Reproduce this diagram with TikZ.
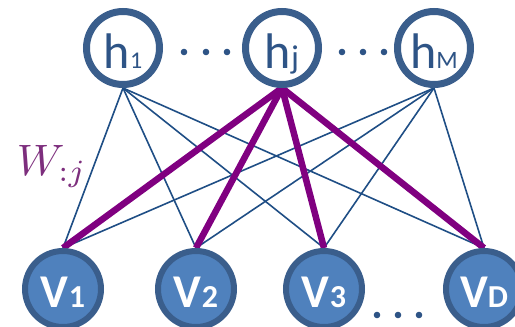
\documentclass[tikz,border=0pt]{standalone}
\usepackage{fontspec}
\setmainfont{Carlito}
\usetikzlibrary{backgrounds}
\definecolor{ring}{HTML}{3A5E8C}
\definecolor{vfill}{HTML}{4F81BD}
\definecolor{htext}{HTML}{2E5486}
\definecolor{edgeblue}{HTML}{1F4E85}
\definecolor{wpurple}{HTML}{800080}
\definecolor{wlabel}{HTML}{7D2E7D}
\newcommand\hlab[2]{{\fontsize{50}{50}\selectfont h}{\fontsize{#1}{#1}\selectfont #2}}
\newcommand\vlab[1]{\bfseries{\fontsize{47}{47}\selectfont V}{\fontsize{32}{32}\selectfont #1}}
\begin{document}
\begin{tikzpicture}[x=1pt,y=-1pt,
  hnode/.style={circle,draw=ring,line width=7pt,fill=white,minimum size=73pt,inner sep=0pt,text=htext,text height=40pt,text depth=0pt},
  vnode/.style={circle,draw=ring,line width=6pt,fill=vfill,minimum size=76pt,inner sep=0pt,text=white,text height=36pt,text depth=0pt},
  thin link/.style={draw=edgeblue,line width=1.6pt},
  bold link/.style={draw=wpurple,line width=6.5pt},
  dotmark/.style={fill=htext}]
\useasboundingbox (0,0) rectangle (515,327);
\node[hnode] (h1) at (123,48) {\hlab{24}{1}};
\node[hnode] (hj) at (282,48) {\hlab{33}{j}};
\node[hnode] (hM) at (434,48) {\hlab{25}{M}};
\node[vnode] (v1) at (63,289) {\vlab{1}};
\node[vnode] (v2) at (196,289) {\vlab{2}};
\node[vnode] (v3) at (324,289) {\vlab{3}};
\node[vnode] (vD) at (484,289) {\vlab{D}};
\node[text=wlabel,scale=4.4,anchor=base west,inner sep=0pt] (w) at (16,175) {$W_{:j}$};
\begin{scope}[on background layer]
\foreach \h in {h1,hM}
  \foreach \v in {v1,v2,v3,vD}
    \draw[thin link] (\h.south) -- (\v.north);
\foreach \v in {v1,v2,v3,vD}
  \draw[bold link] (hj.south) -- (\v.north);
\end{scope}
\foreach \x in {184,206,227,342,363,384}
  \fill[dotmark] (\x,52) circle[radius=3.3pt];
\foreach \x in {377,398,419}
  \fill[dotmark] (\x,315) circle[radius=3.3pt];
\end{tikzpicture}
\end{document}
